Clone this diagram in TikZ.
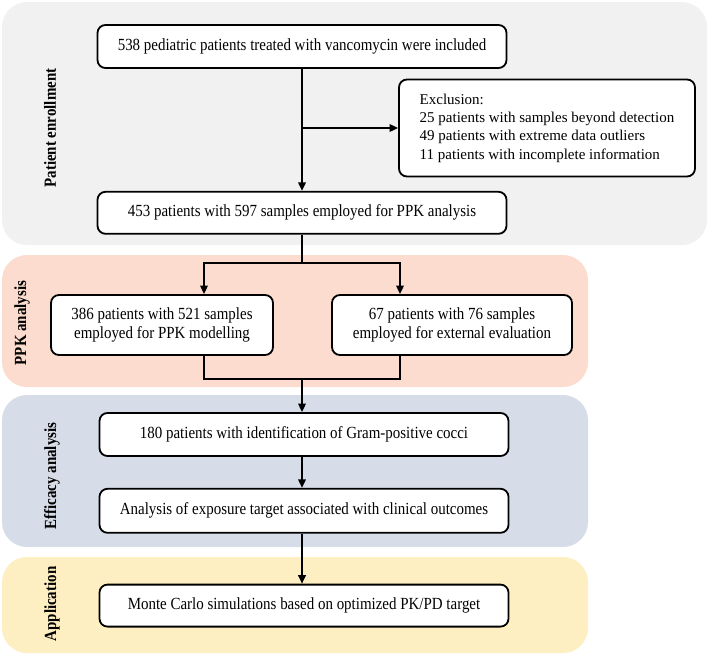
\documentclass[tikz,border=0pt]{standalone}
\usepackage{fontspec}
\setmainfont{Liberation Serif}
\newfontfamily\condfont[FakeStretch=0.88]{Liberation Serif}
\usepackage{xcolor}
\usepackage{tikz}
\usetikzlibrary{arrows.meta, positioning, calc}

\definecolor{enrollbg}{RGB}{241,241,241}
\definecolor{ppkbg}{RGB}{251,220,206}
\definecolor{efficbg}{RGB}{215,220,233}
\definecolor{applbg}{RGB}{253,239,193}
\newcommand{\flowfont}{\condfont\fontsize{17}{18.3}\selectfont}
\newcommand{\exclfont}{\fontsize{15}{18.3}\selectfont}

\begin{document}
\begin{tikzpicture}[
    x=1pt, y=-1pt,
    box/.style={rectangle, draw, rounded corners=8pt, fill=white, line width=1.8pt, align=center, font=\flowfont, minimum width=409pt, minimum height=43pt},
    arr/.style={-{Triangle[length=8.5pt, width=7.5pt]}, line width=1.8pt},
    ln/.style={line width=1.8pt},
    panel/.style={rounded corners=25pt},
    panellabel/.style={font=\condfont\fontsize{17}{18}\selectfont\bfseries, rotate=90},
]
\useasboundingbox (0,0) rectangle (709,656);

% ======== PANELS ========
\fill[panel, enrollbg] (2,2) rectangle (707,245);
\fill[panel, ppkbg] (2,255) rectangle (588,387);
\fill[panel, efficbg] (2,395) rectangle (588,547);
\fill[panel, applbg] (2,557) rectangle (588,653);

\node[panellabel] (lenroll) at (50,128) {Patient enrollment};
\node[panellabel] (lppk) at (22,323) {PPK analysis};
\node[panellabel] (leffic) at (52,476) {Efficacy analysis};
\node[panellabel] (lappl) at (52,604) {Application};

% ======== PATIENT ENROLLMENT ========
\node[box] (n538) at (302,46.5) {538 pediatric patients treated with vancomycin were included};
\node[box, minimum height=42pt, below=122pt of n538] (n453) {453 patients with 597 samples employed for PPK analysis};
\node[box, font=\exclfont, align=left, minimum width=296pt, minimum height=97pt] (excl) at (547,128)
    {Exclusion:\\25 patients with samples beyond detection\\49 patients with extreme data outliers\\11 patients with incomplete information};

\draw[arr] (n538) -- (n453);
\draw[arr] (n538.south |- excl.west) -- (excl.west);

% ======== PPK ANALYSIS ========
\node[box, minimum width=222pt, minimum height=60pt] (n386) at (162,325) {386 patients with 521 samples\\employed for PPK modelling};
\node[box, minimum width=240pt, minimum height=60pt] (n67) at (452,325) {67 patients with 76 samples\\employed for external evaluation};

\coordinate (split) at (302,263);
\coordinate (sl) at (204,263);
\coordinate (sr) at (400,263);
\coordinate (merge) at (302,379);

\draw[ln] (n453.south) -- (split);
\draw[arr] (split) -- (sl) -- (sl |- n386.north);
\draw[arr] (split) -- (sr) -- (sr |- n67.north);
\draw[ln] (sl |- n386.south) |- (merge) -| (sr |- n67.south);

% ======== EFFICACY ANALYSIS ========
\node[box] (n180) at (304,434.5) {180 patients with identification of Gram-positive cocci};
\node[box, minimum height=44pt, below=31pt of n180] (nexpo) {Analysis of exposure target associated with clinical outcomes};

\draw[arr] (merge) -- (merge |- n180.north);
\draw[arr] (merge |- n180.south) -- (merge |- nexpo.north);

% ======== APPLICATION ========
\node[box, minimum height=42pt, below=50pt of nexpo] (nmc) {Monte Carlo simulations based on optimized PK/PD target};

\draw[arr] (merge |- nexpo.south) -- (merge |- nmc.north);

\end{tikzpicture}
\end{document}
